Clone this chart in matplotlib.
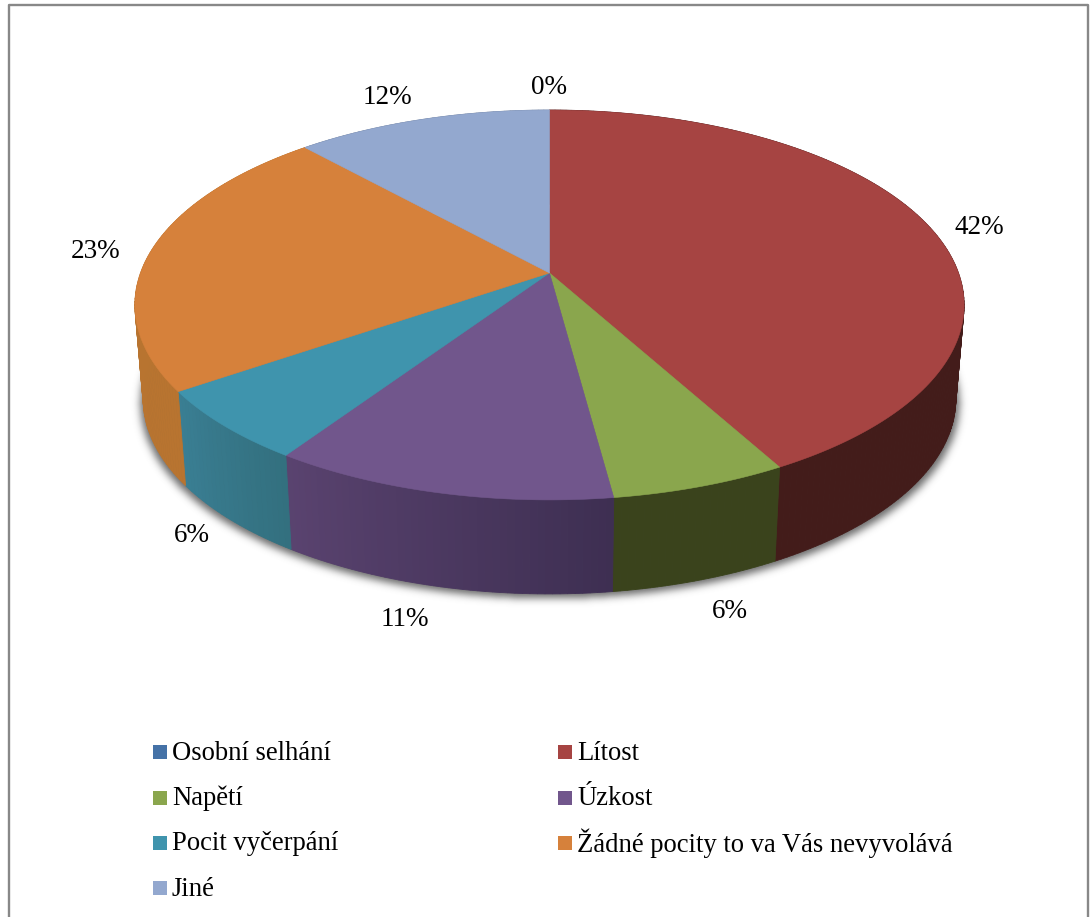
import numpy as np
import matplotlib
matplotlib.use("Agg")
import matplotlib.pyplot as plt
from matplotlib.path import Path
from matplotlib.patches import Polygon, Rectangle

# -------------------------
# Data
# -------------------------
categories = ["Osobní selhání", "Lítost", "Napětí", "Úzkost", "Pocit vyčerpání",
              "Žádné pocity to va Vás nevyvolává", "Jiné"]
shares = [0.0, 42.0, 5.9, 11.5, 6.0, 22.9, 11.7]
pct_labels = ["0%", "42%", "6%", "11%", "6%", "23%", "12%"]

top_colors = ["#4572A7", "#A64442", "#8AA64D", "#71568C", "#3F94AD", "#D6813B", "#93A8CF"]
side_start = ["#2F4D72", "#431C1A", "#3A431C", "#3E2F52", "#33707F", "#B87430", "#6A7A96"]
side_end = ["#2F4D72", "#431C1A", "#3A431C", "#5A4370", "#3A7F94", "#B87430", "#6A7A96"]

# -------------------------
# Layout (pixels)
# -------------------------
W, H = 1090, 917
CX, CY = 549.5, 273.0
RX, RY = 409.0, 189.7
PERSP = 0.164
DEPTH = 94.0
BOTTOM_SCALE = 0.98

label_pos = [(549, 88), (979, 227), (730, 611), (405, 619), (192, 536), (96, 252), (387, 97)]
legend_cols = [153, 558]
legend_rows = [752, 797.5, 842.5, 888]


def project(frac):
    # pie fraction (clockwise from the back) -> top face pixels, with perspective
    t = 2 * np.pi * np.asarray(frac)
    x, y = np.sin(t), -np.cos(t)
    d = 1 - PERSP * y
    return CX + RX * x / d, CY + RY * y / d


def lower(px, py):
    return CX + BOTTOM_SCALE * (px - CX), py + DEPTH


def blend(c1, c2, f):
    a = np.array(matplotlib.colors.to_rgb(c1))
    b = np.array(matplotlib.colors.to_rgb(c2))
    return a + (b - a) * f


fig = plt.figure(figsize=(W / 100, H / 100), dpi=100)
ax = fig.add_axes([0, 0, 1, 1])

# -------------------------
# Soft shadow under the disc
# -------------------------
ring = np.linspace(0, 1, 361)
rx_, ry_ = lower(*project(ring))
gx, gy = np.meshgrid(np.arange(W), np.arange(H))
inside = Path(np.column_stack([CX + 1.008 * (rx_ - CX), ry_ + 4])).contains_points(
    np.column_stack([gx.ravel(), gy.ravel()])
).reshape(H, W).astype(float)
kernel = np.exp(-0.5 * (np.arange(-12, 13) / 4.0) ** 2)
kernel /= kernel.sum()
soft = np.apply_along_axis(lambda r: np.convolve(r, kernel, mode="same"), 1, inside)
soft = np.apply_along_axis(lambda c: np.convolve(c, kernel, mode="same"), 0, soft)
rgba = np.zeros((H, W, 4))
rgba[..., :3] = 0.35
rgba[..., 3] = soft * 0.9
ax.imshow(rgba, extent=(0, W, H, 0), zorder=1, interpolation="nearest", aspect="auto")

# -------------------------
# Slices
# -------------------------
edges = np.concatenate([[0], np.cumsum(shares)]) / np.sum(shares)

for i, cat in enumerate(categories):
    n = max(int(shares[i] * 4), 2)
    fr = np.linspace(edges[i], edges[i + 1], n + 1)
    px, py = project(fr)
    bx, by = lower(px, py)
    if shares[i] == 0:
        continue
    # side wall, small quads so the shading can change along it
    for k in range(n):
        quad = [(px[k], py[k]), (px[k + 1], py[k + 1]), (bx[k + 1], by[k + 1]), (bx[k], by[k])]
        col = blend(side_start[i], side_end[i], k / n)
        ax.add_patch(Polygon(quad, closed=True, fc=col, ec=col, lw=0.6, zorder=2))

for i, cat in enumerate(categories):
    if shares[i] == 0:
        continue
    n = max(int(shares[i] * 4), 2)
    fr = np.linspace(edges[i], edges[i + 1], n + 1)
    px, py = project(fr)
    pts = [(CX, CY)] + list(zip(px, py))
    ax.add_patch(Polygon(pts, closed=True, fc=top_colors[i], ec=top_colors[i], lw=0.4, zorder=3))

# -------------------------
# Percent labels
# -------------------------
for (lx, ly), txt in zip(label_pos, pct_labels):
    ax.text(lx, ly, txt, ha="center", va="center", fontsize=19.5,
            family="Liberation Serif", color="black", zorder=5)

# -------------------------
# Legend
# -------------------------
for i, cat in enumerate(categories):
    col = legend_cols[i % 2]
    row = legend_rows[i // 2]
    ax.add_patch(Rectangle((col, row - 7), 14, 14, fc=top_colors[i], ec="none", zorder=5))
    ax.text(col + 19, row + 1, cat, ha="left", va="center", fontsize=19.2,
            family="Liberation Serif", color="black", zorder=5)

# -------------------------
# Frame: left, top, right only (bottom is cut off)
# -------------------------
ax.plot([8.5, 8.5, 1088, 1088], [H, 5, 5, H], color="#888888", lw=1.7, zorder=6)

ax.set_xlim(0, W)
ax.set_ylim(H, 0)
ax.axis("off")

fig.savefig("out.png", dpi=100)
